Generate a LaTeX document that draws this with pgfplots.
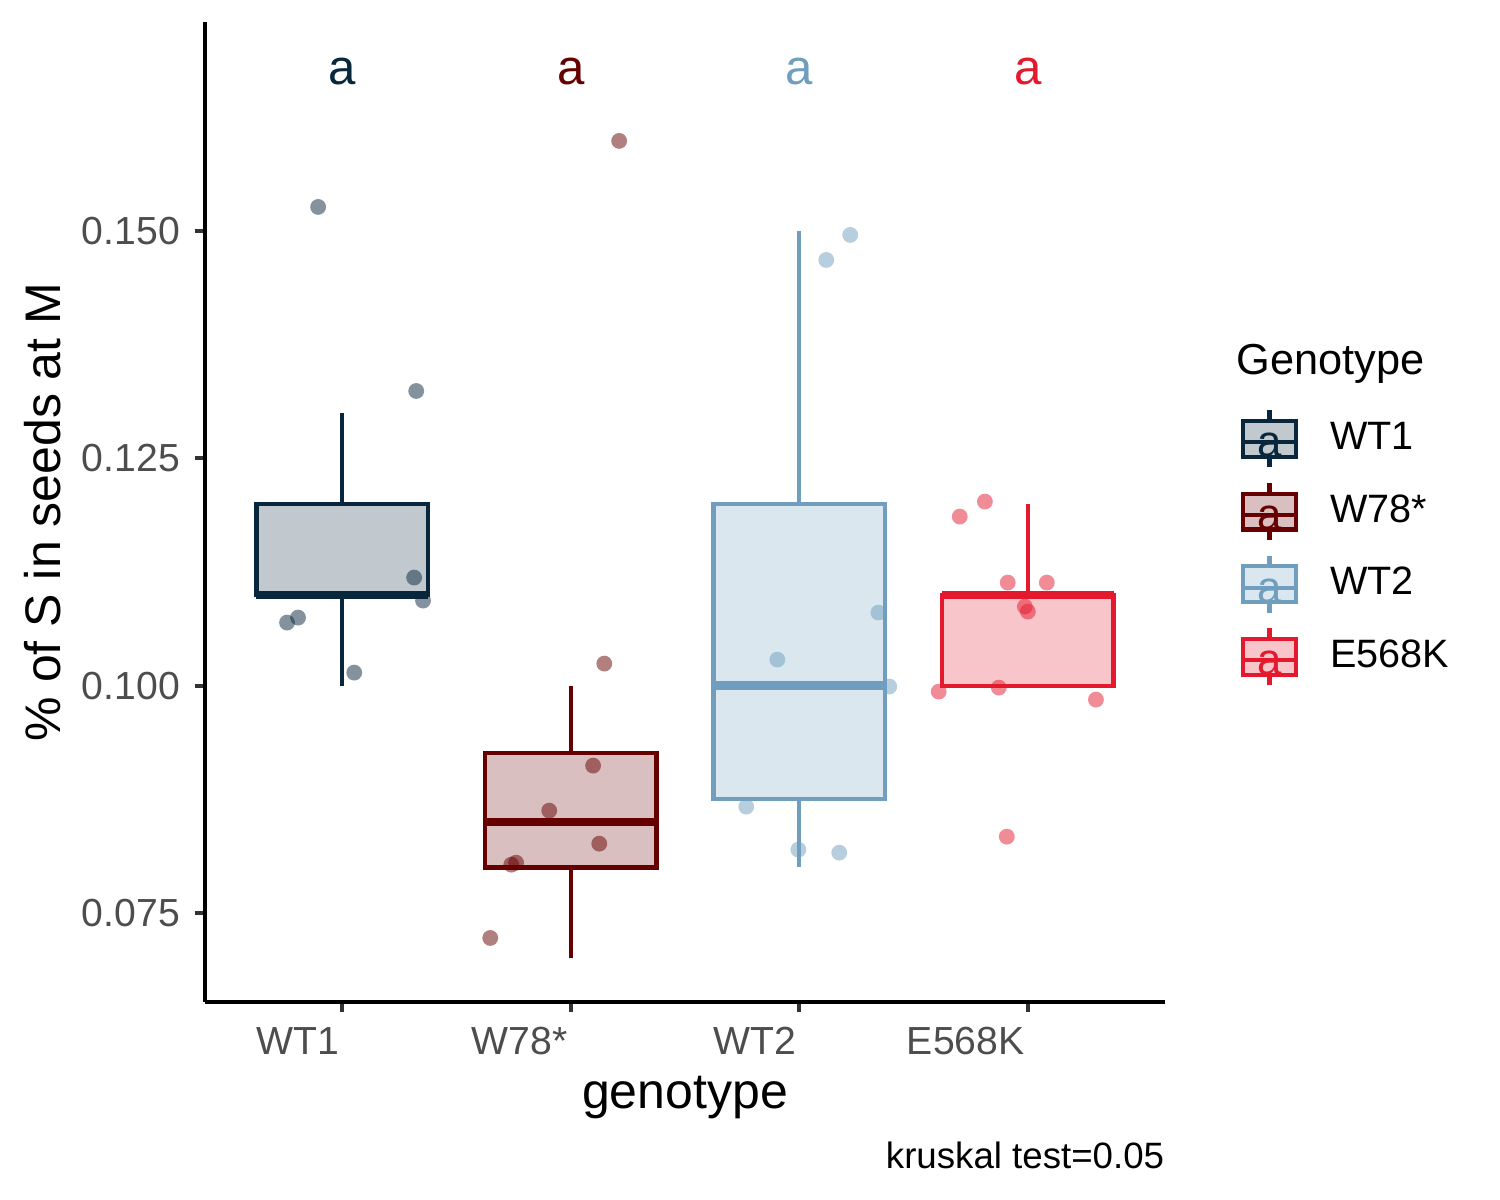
\documentclass[border=0pt]{standalone}
\usepackage{fontspec}
\setmainfont{Liberation Sans}
\usepackage{pgfplots}
\pgfplotsset{compat=1.18}
\usepgfplotslibrary{statistics}
\definecolor{c1}{RGB}{8,38,60}
\definecolor{c2}{RGB}{102,0,0}
\definecolor{c3}{RGB}{111,158,190}
\definecolor{c4}{RGB}{228,25,45}
\definecolor{tickgray}{RGB}{77,77,77}
\pgfplotsset{
  gkey/.style={legend image code/.code={
     \path[draw=none, fill=none] (0pt,-8.72pt) rectangle (13.7pt,8.72pt);
     \draw[#1, line width=1pt] (6.85pt,-6.84pt) -- (6.85pt,6.84pt);
     \draw[#1, fill=#1!25, line width=1pt] (0.5pt,-4.3pt) rectangle (13.2pt,4.3pt);
     \draw[#1, line width=1pt] (0.5pt,-0.8pt) -- (13.2pt,-0.8pt);
     \node[text=#1, anchor=base, inner sep=0pt, font=\fontsize{10.5}{12}\selectfont] at (6.85pt,-4.3pt) {a};
  }},
  gbox/.style={draw=#1, fill=#1!25, line width=1pt, solid,
     boxplot/every median/.style={line width=2pt}, forget plot},
  gpts/.style={only marks, mark=*, mark size=1.9pt, color=#1,
     mark options={fill=#1, fill opacity=0.5, draw opacity=0}, forget plot}
}
\begin{document}
\begin{tikzpicture}
\useasboundingbox (-49.2pt,-47.52pt) rectangle (310.8pt,240.48pt);
\begin{axis}[
  at={(0pt,0pt)}, anchor=south west,
  scale only axis, width=230.4pt, height=235.2pt,
  xmin=0.4, xmax=4.6, ymin=0.06521, ymax=0.17298,
  axis lines=left,
  axis line style={-, line width=1pt, black},
  tick align=outside,
  major tick length=2.5pt,
  tick style={line width=1pt, color=black!80},
  xtick={1,2,3,4}, xticklabels={WT1,W78*,WT2,E568K},
  ytick={0.075,0.1,0.125,0.15}, yticklabels={0.075,0.100,0.125,0.150},
  scaled y ticks=false,
  /pgf/number format/assume math mode=true,
  ticklabel style={font=\fontsize{9.4}{11}\selectfont, text=tickgray},
  xticklabel style={anchor=north east, inner xsep=0pt, xshift=-0.6pt},
  yticklabel style={anchor=east},
  xlabel={genotype}, ylabel={\% of S in seeds at M},
  label style={font=\fontsize{12}{14}\selectfont},
  xlabel style={at={(axis description cs:0.5,-0.1092)}, anchor=base},
  ylabel style={at={(axis description cs:-0.151,0.5)}, anchor=base},
  clip=false,
  boxplot/draw direction=y,
  boxplot/box extend=0.75,
  boxplot/whisker extend=0,
  legend cell align=left,
  legend style={at={(axis description cs:1.0792,0.6116)}, anchor=north west,
    draw=none, fill=none, inner sep=0pt, outer sep=0pt, row sep=0pt,
    nodes={inner sep=0pt, font=\fontsize{9.5}{11}\selectfont, text=black},
    /tikz/every odd column/.append style={column sep=7.7pt}},
]
% boxplots
\addplot[gbox=c1, boxplot prepared={draw position=1, lower whisker=0.100, lower quartile=0.110, median=0.110, upper quartile=0.120, upper whisker=0.130}] coordinates {};
\addplot[gbox=c2, boxplot prepared={draw position=2, lower whisker=0.070, lower quartile=0.0800, median=0.0850, upper quartile=0.0926, upper whisker=0.100}] coordinates {};
\addplot[gbox=c3, boxplot prepared={draw position=3, lower whisker=0.080, lower quartile=0.0875, median=0.100, upper quartile=0.120, upper whisker=0.150}] coordinates {};
\addplot[gbox=c4, boxplot prepared={draw position=4, lower whisker=0.100, lower quartile=0.100, median=0.110, upper quartile=0.110, upper whisker=0.120}] coordinates {};
% jittered points
\addplot[gpts=c1] coordinates {(0.895,0.15264) (1.324,0.1324) (1.315,0.11188) (1.354,0.10935) (0.807,0.10748) (0.759,0.10693) (1.053,0.10143)};
\addplot[gpts=c2] coordinates {(2.212,0.1599) (2.147,0.10242) (2.098,0.0912) (1.906,0.08625) (2.125,0.08262) (1.761,0.08053) (1.740,0.08031) (1.648,0.07225)};
\addplot[gpts=c3] coordinates {(3.223,0.14956) (3.118,0.14681) (3.346,0.10803) (3.394,0.0999) (2.904,0.10286) (2.768,0.08669) (2.996,0.08196) (3.175,0.08163)};
\addplot[gpts=c4] coordinates {(3.812,0.12024) (3.702,0.11859) (3.912,0.11133) (4.083,0.11133) (3.987,0.10869) (4.0,0.10814) (3.873,0.09978) (3.610,0.09934) (4.298,0.09846) (3.908,0.08339)};
% legend
\addlegendimage{gkey=c1}\addlegendentry{WT1}
\addlegendimage{gkey=c2}\addlegendentry{W78*}
\addlegendimage{gkey=c3}\addlegendentry{WT2}
\addlegendimage{gkey=c4}\addlegendentry{E568K}
% group letters
\node[text=c1, anchor=base, inner sep=0pt, font=\fontsize{11.8}{13}\selectfont] at (axis cs:1,0.1661) {a};
\node[text=c2, anchor=base, inner sep=0pt, font=\fontsize{11.8}{13}\selectfont] at (axis cs:2,0.1661) {a};
\node[text=c3, anchor=base, inner sep=0pt, font=\fontsize{11.8}{13}\selectfont] at (axis cs:3,0.1661) {a};
\node[text=c4, anchor=base, inner sep=0pt, font=\fontsize{11.8}{13}\selectfont] at (axis cs:4,0.1661) {a};
% legend title and caption
\node[anchor=base west, inner sep=0pt, font=\fontsize{10.4}{12}\selectfont] at (axis description cs:1.074,0.6398) {Genotype};
\node[anchor=base east, inner sep=0pt, font=\fontsize{8.8}{10}\selectfont] at (axis description cs:1.0,-0.1704) {kruskal test=0.05};
\end{axis}
\end{tikzpicture}
\end{document}
